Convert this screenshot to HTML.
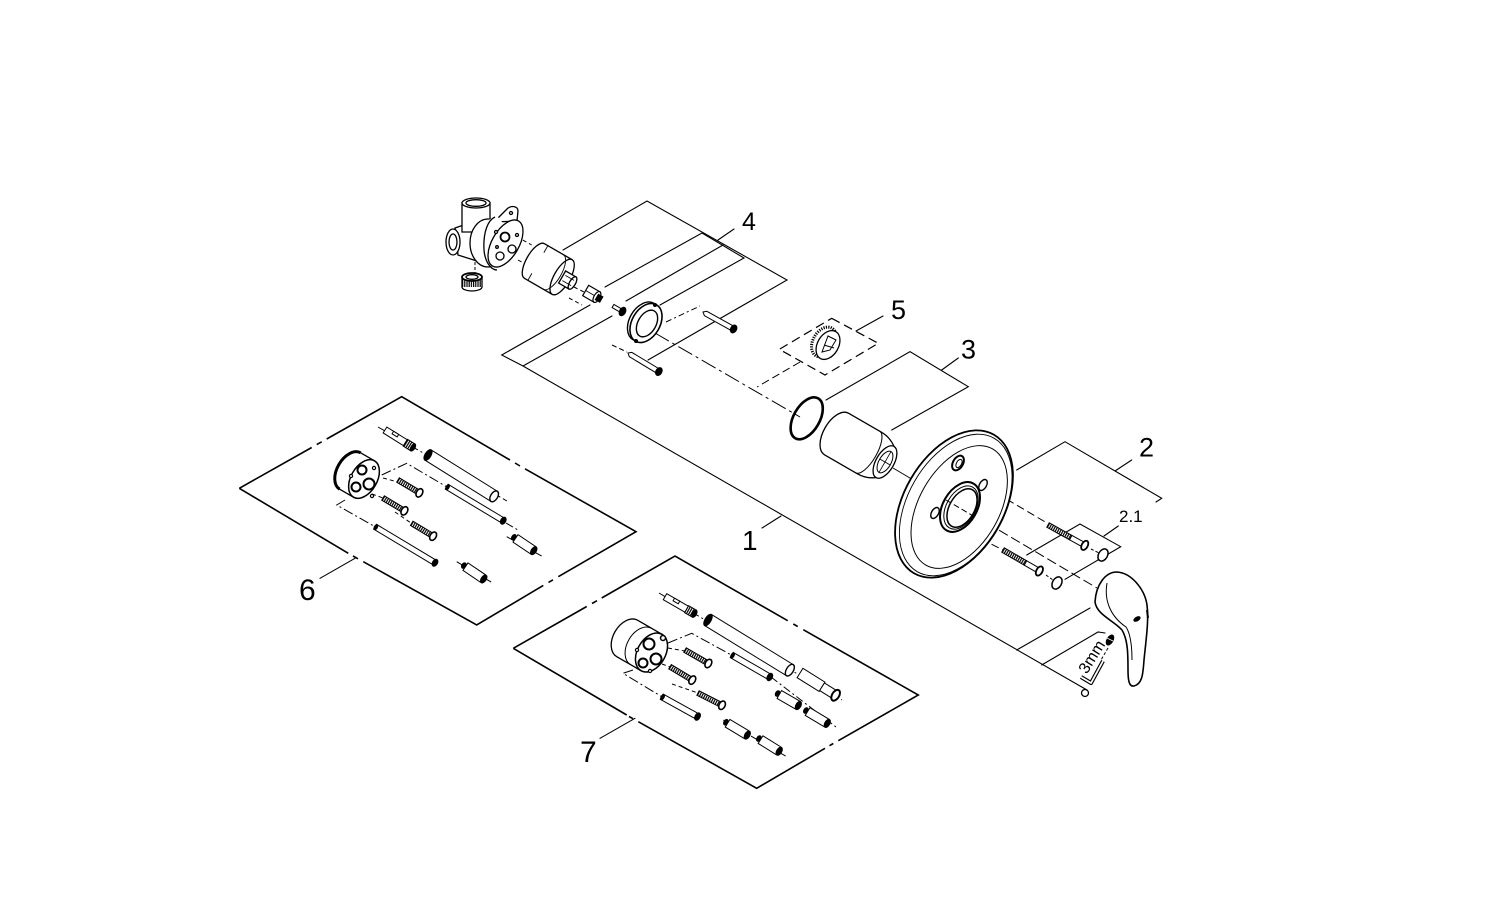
<!DOCTYPE html>
<html><head><meta charset="utf-8">
<style>
html,body{margin:0;padding:0;background:#fff;}
svg{display:block}
text{font-family:"Liberation Sans",Arial,sans-serif;fill:#000}
</style></head><body>
<svg width="1500" height="899" viewBox="0 0 1500 899" xmlns="http://www.w3.org/2000/svg">
<defs>
<pattern id="thr" width="2.2" height="10" patternUnits="userSpaceOnUse"><rect width="2.2" height="10" fill="#fff"/><rect width="1.2" height="10" fill="#000"/></pattern>
</defs>
<rect width="1500" height="899" fill="#fff"/>

<!-- ===== leader lines ===== -->
<g stroke="#000" stroke-width="1.1" fill="none" stroke-linecap="round">
  <path d="M563,250 L647,201 L787,280 L648,360"/>
  <path d="M605,287 L702,233 L744,258 L660,305"/>
  <path d="M723,245 L626,301"/>
  <path d="M734,229 L718,240"/>
  <path d="M590,305 L501.7,355 L523,366 L1087,690"/>
  <path d="M523,366 L612,316"/>
  <path d="M1016.7,650 L1090,608"/>
  <path d="M1041.7,665 L1098,632 L1105,633"/>
  <path d="M762,528 L781,516"/>
  <path d="M883,316 L856,331"/>
  <path d="M826,400 L910,351.7 L968.3,386.7 L891.7,430"/>
  <path d="M958.3,358 L941.7,370"/>
  <path d="M1016.7,470 L1065,441.7 L1161.7,498.3 L1156,502"/>
  <path d="M1131.7,460 L1115,471"/>
  <path d="M1026.7,555 L1080,524 L1120.7,546.7 L1065,579.3"/>
  <path d="M1118.3,526 L1104,536"/>
  <path d="M320,578.3 L355,558.3"/>
  <path d="M600,738.3 L635,718.3"/>
</g>

<!-- dashed / dash-dot axes -->
<g stroke="#000" stroke-width="1" fill="none">
  <path d="M831.7,318.3 L878.3,343.3 L825,375 L779.3,349.3 Z" stroke-dasharray="9,5" stroke-width="1.2"/>
  <path d="M800,362 L757,387" stroke-dasharray="8,4"/>
  <path d="M655,333 L800,417" stroke-dasharray="16,4,3,4"/>
  <path d="M666,322 L700,306" stroke-dasharray="6,3,2,3"/>
  <path d="M612,345 L627,352" stroke-dasharray="5,3"/>
  <path d="M516.7,236.7 L531.7,245 M518,260 L530,266.7" stroke-dasharray="4,3"/>
  <path d="M475,262 L475,274" stroke-dasharray="3,2"/>
  <path d="M574,287 L588,294 M569,298 L582,305" stroke-dasharray="4,3"/>
  <path d="M893,468 L915,481"/>
  <path d="M986,487 L1047,523" stroke-dasharray="8,4"/>
  <path d="M938,517 L1003,550" stroke-dasharray="8,4"/>
  <path d="M975,516 L1097,588" stroke-dasharray="10,4"/>
  <path d="M1091,549 L1099,553 M1046,575 L1053,580" stroke-dasharray="3,2"/>
  <path d="M1108,648 L1101,660" stroke-dasharray="3,2"/>
  <path d="M378,427 L507,501" stroke-dasharray="10,3,2,3"/>
  <path d="M381.7,475 L406.7,463.3 L447,487" stroke-dasharray="10,3,2,3"/>
  <path d="M506,523 L518,530 M506.7,536.7 L543.3,557" stroke-dasharray="8,3,2,3"/>
  <path d="M345,500 L336.7,505 L375,526.7" stroke-dasharray="10,3,2,3"/>
  <path d="M456.7,561.7 L493.3,583.3" stroke-dasharray="8,3,2,3"/>
  <path d="M383,478 L398,482 M372,494 L383,498 M395,512 L411,523" stroke-dasharray="4,3"/>
  <path d="M659,593 L842,700" stroke-dasharray="10,3,2,3"/>
  <path d="M668,643 L691.7,633.3 L735,657" stroke-dasharray="10,3,2,3"/>
  <path d="M771,677 L836,727" stroke-dasharray="8,3,2,3"/>
  <path d="M633,670 L623,673.3 L661.7,696.7" stroke-dasharray="10,3,2,3"/>
  <path d="M723.3,720 L786.7,756.7" stroke-dasharray="8,3,2,3"/>
  <path d="M668,648 L685,651 M662,664 L670,667 M672,684 L698,693" stroke-dasharray="4,3"/>
</g>

<!-- box outlines -->
<g stroke="#000" stroke-width="1.6" fill="none">
  <path d="M239.3,488.3 L311.7,447.5 M316.7,444.6 L321.7,441.8 M326.7,439 L401.7,396.7 L510,460 M515,463 L520,466 M525,468.8 L636,531.7 L558.3,576.7 M553,579.8 L548.5,582.4 M543.3,585.4 L476.7,625 L363.3,561.7 M358,558.8 L353,556 M348.3,553.3 L239.3,488.3"/>
  <path d="M513.3,648.3 L586.7,606.5 M592,603.5 L597,600.7 M601.7,598 L675,556 L787.7,620.7 M793.3,624 L797.7,626.5 M803.3,629.7 L918.3,695 L838.3,740.7 M833.3,743.5 L829.5,745.7 M825,748.3 L756.7,788.3 L638.3,721.7 M633,718.7 L629,716.5 M626.7,715 L513.3,648.3"/>
</g>

<!-- ===== valve body ===== -->
<g stroke="#000" stroke-width="1.3" fill="#fff">
  <path d="M455,228 L478,220 L480,262 L458,255 Z"/>
  <ellipse cx="453" cy="242" rx="7" ry="13"/>
  <ellipse cx="453" cy="242" rx="4" ry="8"/>
  <path d="M462,203 L462,232 L490,232 L490,203 Z"/>
  <ellipse cx="476" cy="203" rx="14" ry="5"/>
  <ellipse cx="476" cy="203" rx="10" ry="3.3"/>
  <ellipse cx="488" cy="243" rx="18" ry="24"/>
  <path d="M494,222 L507,209 C511,205 518,206 518,211 L517,221 Z"/>
  <circle cx="511" cy="213" r="1.5"/>
  <path d="M484,222 L497,216 L509,230 L506,266 L492,270 Z" stroke="none"/>
  <path d="M495,217 C488,220 483,232 484,250 C485,262 491,270 497,270" fill="none"/>
  <ellipse cx="505.5" cy="243.5" rx="13.5" ry="26" transform="rotate(30 505.5 243.5)"/>
  <circle cx="505" cy="237" r="4.5" stroke-width="1.8"/>
  <circle cx="512" cy="249" r="4"/>
  <circle cx="500" cy="256" r="4"/>
  <circle cx="496" cy="232" r="1.5"/>
  <circle cx="517" cy="235" r="1.5"/>
  <circle cx="497" cy="247" r="1.3"/>
  <ellipse cx="472" cy="287" rx="10" ry="4"/>
  <rect x="462" y="277" width="20" height="10" fill="url(#thr)" stroke="none"/>
  <path d="M462,277 L462,287 M482,277 L482,287" fill="none"/>
  <ellipse cx="472" cy="277" rx="10" ry="4" stroke-width="1.8"/>
  <ellipse cx="472" cy="277" rx="6" ry="2.3"/>
</g>

<!-- cartridge -->
<g transform="translate(550,270) rotate(30)" stroke="#000" stroke-width="1.3" fill="#fff">
  <path d="M14,-20 L-18,-20 A8,20 0 0 0 -18,20 L14,20 Z"/>
  <ellipse cx="14" cy="0" rx="8" ry="20"/>
  <path d="M4,-20 A8,20 0 0 1 4,20" fill="none" stroke-width="0.9"/>
  <path d="M-14,-20 L-14,-12 M-14,12 L-14,20" stroke-width="0.9"/>
  <rect x="14" y="-7" width="12" height="14"/>
  <ellipse cx="26" cy="0" rx="3" ry="7"/>
  <path d="M16,-3 L26,-3 M16,3 L26,3" stroke-width="0.8"/>
</g>
<g transform="translate(590,293) rotate(30)" stroke="#000" stroke-width="1.2" fill="#fff">
  <rect x="-5" y="-6" width="13" height="12"/>
  <path d="M-5,0 L8,0" stroke-width="0.8"/>
  <ellipse cx="8" cy="0" rx="3" ry="6"/>
  <rect x="8" y="-3" width="5" height="6" fill="#000"/>
</g>
<g transform="translate(613,306) rotate(30)" stroke="#000" stroke-width="1" fill="#fff">
  <rect x="0" y="-1.8" width="9" height="3.6"/>
  <ellipse cx="11" cy="0" rx="3" ry="4.5" fill="#000"/>
</g>
<g stroke="#000" fill="#fff">
  <ellipse cx="643.5" cy="321.5" rx="14" ry="21" transform="rotate(30 643.5 321.5)" stroke-width="1.4"/>
  <ellipse cx="646" cy="323" rx="14" ry="21" transform="rotate(30 646 323)" stroke-width="1.6"/>
  <ellipse cx="647" cy="323.5" rx="9" ry="14.5" transform="rotate(30 647 323.5)" stroke-width="1.4"/>
  <circle cx="655" cy="305" r="1.5" fill="#000"/>
  <circle cx="636" cy="341" r="1.5" fill="#000"/>
</g>
<g transform="translate(703,312) rotate(29)" stroke="#000" stroke-width="1" fill="#fff">
  <path d="M0,0 L3,-2.5 L33,-2.5 L33,2.5 L3,2.5 Z"/>
  <ellipse cx="35" cy="0" rx="3" ry="4.2" fill="#000"/>
</g>
<g transform="translate(628,353) rotate(31)" stroke="#000" stroke-width="1" fill="#fff">
  <path d="M0,0 L3,-2.5 L34,-2.5 L34,2.5 L3,2.5 Z"/>
  <ellipse cx="36" cy="0" rx="3" ry="4.2" fill="#000"/>
</g>

<!-- cap item 5 -->
<g stroke="#000" fill="#fff">
  <ellipse cx="824" cy="342" rx="11" ry="16" transform="rotate(30 824 342)" stroke-width="3" stroke-dasharray="1.2,1.2"/>
  <ellipse cx="828" cy="345" rx="10.5" ry="15.5" transform="rotate(30 828 345)" stroke-width="1.3"/>
  <path d="M822,352 L828,336 L836,340 L830,350 Z" fill="none" stroke-width="1"/>
  <path d="M824,345 L834,348" fill="none" stroke-width="1"/>
</g>

<ellipse cx="806.7" cy="418.3" rx="13" ry="23" transform="rotate(30 806.7 418.3)" fill="none" stroke="#000" stroke-width="2.6"/>

<g transform="translate(859,447) rotate(30)" stroke="#000" stroke-width="1.3" fill="#fff">
  <path d="M-26,-24 L12,-24 C20,-24 26,-21 30,-18 L30,18 C26,21 20,24 12,24 L-26,24 A13,24 0 0 1 -26,-24 Z"/>
  <path d="M10,-24 A9,24 0 0 1 10,24" fill="none" stroke-width="1"/>
  <ellipse cx="30" cy="0" rx="9" ry="18"/>
  <ellipse cx="30" cy="0" rx="6" ry="12" stroke-width="1"/>
  <path d="M30,-12 L30,12 M24,0 L36,0" stroke-width="0.8" fill="none"/>
</g>

<g transform="translate(954,504) rotate(30)" stroke="#000" fill="#fff">
  <ellipse cx="0" cy="0" rx="50" ry="80" stroke-width="1.8"/>
  <ellipse cx="2" cy="0" rx="47.5" ry="77" stroke-width="0.9" fill="none"/>
  <ellipse cx="6" cy="0" rx="40" ry="67" stroke-width="1" fill="none"/>
</g>
<g stroke="#000" fill="#fff">
  <ellipse cx="960" cy="507" rx="17" ry="27" transform="rotate(30 960 507)" stroke-width="2"/>
  <ellipse cx="961" cy="507.5" rx="14.5" ry="23.5" transform="rotate(30 961 507.5)" stroke-width="1"/>
  <ellipse cx="962" cy="508" rx="12.5" ry="21" transform="rotate(30 962 508)" stroke-width="1.5"/>
  <ellipse cx="935" cy="513" rx="3.5" ry="6" transform="rotate(30 935 513)" stroke-width="1.4"/>
  <ellipse cx="983" cy="485" rx="3.5" ry="6" transform="rotate(30 983 485)" stroke-width="1.4"/>
  <ellipse cx="958" cy="463" rx="5" ry="8" transform="rotate(30 958 463)" stroke-width="2"/>
  <ellipse cx="959" cy="463.5" rx="2.5" ry="4.5" transform="rotate(30 959 463.5)" stroke-width="1"/>
  <path d="M946,500 L975,517" fill="none" stroke-width="1" stroke-dasharray="6,3"/>
</g>

<g transform="translate(1048,525) rotate(29)" stroke="#000" stroke-width="1" fill="#fff">
  <rect x="0" y="-2.5" width="26" height="5" fill="url(#thr)"/>
  <rect x="26" y="-2.5" width="14" height="5"/>
  <ellipse cx="42" cy="0" rx="3" ry="5" stroke-width="1.8"/>
</g>
<g transform="translate(1003,550) rotate(30)" stroke="#000" stroke-width="1" fill="#fff">
  <rect x="0" y="-2.5" width="26" height="5" fill="url(#thr)"/>
  <rect x="26" y="-2.5" width="14" height="5"/>
  <ellipse cx="42" cy="0" rx="3" ry="5" stroke-width="1.8"/>
</g>
<ellipse cx="1103" cy="555" rx="4.5" ry="6.5" transform="rotate(30 1103 555)" fill="#fff" stroke="#000" stroke-width="1.5"/>
<ellipse cx="1057" cy="583" rx="4.5" ry="6.5" transform="rotate(30 1057 583)" fill="#fff" stroke="#000" stroke-width="1.5"/>

<path d="M1095,602 C1096,585 1105,572 1117,572 C1132,573 1145,590 1147,605 C1149,620 1146,640 1144,660 C1143,675 1142,684 1134,686 C1129,687 1128,680 1128,670 C1128,655 1128,640 1122,630 C1113,620 1097,615 1095,602 Z" fill="#fff" stroke="#000" stroke-width="1.6"/>
<path d="M1107,583 C1104,600 1110,616 1126,627 C1130,633 1132,645 1132,660" fill="none" stroke="#000" stroke-width="1"/>
<ellipse cx="1137" cy="619" rx="4" ry="2.3" transform="rotate(-30 1137 619)" fill="#000"/>
<path d="M1147,610 L1148,618" stroke="#000" stroke-width="2"/>
<ellipse cx="1110" cy="640" rx="3.5" ry="6" transform="rotate(30 1110 640)" fill="#000"/>
<path d="M1107,638 L1113,641" stroke="#fff" stroke-width="0.8"/>
<path d="M1103,661 L1091,683 L1081,677" fill="none" stroke="#000" stroke-width="4" stroke-linejoin="round"/>
<path d="M1103,661 L1091,683 L1081,677" fill="none" stroke="#fff" stroke-width="1.8" stroke-linejoin="round"/>
<circle cx="1085" cy="693" r="3.5" fill="#fff" stroke="#000" stroke-width="1.3"/>
<text transform="translate(1092,657) rotate(-58)" text-anchor="middle" y="5" font-size="16">3mm</text>

<!-- ===== box 6 contents ===== -->
<g transform="translate(364,479) rotate(30)" stroke="#000" fill="#fff">
  <path d="M0,-21 L-16,-21 A13,21 0 0 0 -16,21 L0,21 Z" stroke-width="1.3"/>
  <path d="M-16,-21 A13,21 0 0 0 -16,21" fill="none" stroke-width="3"/>
  <ellipse cx="0" cy="0" rx="13" ry="21" stroke-width="1.5"/>
</g>
<g stroke="#000" fill="#fff">
  <circle cx="362" cy="470" r="4.5" stroke-width="2"/>
  <circle cx="369" cy="484" r="5.5" stroke-width="2"/>
  <circle cx="356" cy="487" r="4.5" stroke-width="2"/>
  <circle cx="374" cy="468" r="1.6" stroke-width="1.2"/>
  <circle cx="351" cy="476" r="1.6" stroke-width="1.2"/>
  <circle cx="372" cy="496" r="1.6" stroke-width="1.2"/>
</g>
<g stroke="#000" stroke-width="1" fill="#fff">
  <g transform="translate(385,430) rotate(32)">
    <rect x="0" y="-3.5" width="24" height="7"/>
    <rect x="8" y="-3.5" width="6" height="3" fill="#fff"/>
    <rect x="24" y="-4" width="9" height="8" fill="url(#thr)"/>
    <ellipse cx="33" cy="0" rx="2" ry="4" fill="#000"/>
  </g>
  <g transform="translate(428,455) rotate(32)">
    <rect x="0" y="-6" width="78" height="12"/>
    <ellipse cx="0" cy="0" rx="3" ry="6" fill="#000"/>
    <ellipse cx="78" cy="0" rx="3.5" ry="6" stroke-width="1.4"/>
  </g>
  <g transform="translate(446.7,486.7) rotate(31)">
    <rect x="0" y="-2.8" width="64" height="5.6"/>
    <ellipse cx="1" cy="0" rx="1.5" ry="2.8" fill="#000"/>
    <ellipse cx="66" cy="0" rx="2.5" ry="3.8" fill="#000"/>
  </g>
  <g transform="translate(398,480) rotate(31)"><rect x="0" y="-2.5" width="22" height="5" fill="url(#thr)"/><ellipse cx="25" cy="0" rx="3" ry="4.5" stroke-width="1.6"/></g>
  <g transform="translate(383,498) rotate(31)"><rect x="0" y="-2.5" width="22" height="5" fill="url(#thr)"/><ellipse cx="25" cy="0" rx="3" ry="4.5" stroke-width="1.6"/></g>
  <g transform="translate(411.7,523.3) rotate(31)"><rect x="0" y="-2.5" width="22" height="5" fill="url(#thr)"/><ellipse cx="25" cy="0" rx="3" ry="4.5" stroke-width="1.6"/></g>
  <g transform="translate(375,526.7) rotate(31)">
    <rect x="0" y="-2.8" width="68" height="5.6"/>
    <ellipse cx="1" cy="0" rx="1.5" ry="2.8" fill="#000"/>
    <ellipse cx="70" cy="0" rx="2.5" ry="3.8" fill="#000"/>
  </g>
  <g transform="translate(513,536.7) rotate(34)"><ellipse cx="1" cy="0" rx="2" ry="3" fill="#000"/><rect x="3" y="-4.5" width="21" height="9"/><ellipse cx="25" cy="0" rx="2.5" ry="4.5" fill="#000"/></g>
  <g transform="translate(463,565) rotate(34)"><ellipse cx="1" cy="0" rx="2" ry="3" fill="#000"/><rect x="3" y="-4.5" width="21" height="9"/><ellipse cx="25" cy="0" rx="2.5" ry="4.5" fill="#000"/></g>
</g>

<!-- ===== box 7 contents ===== -->
<g transform="translate(651.5,652.5) rotate(30)" stroke="#000" fill="#fff">
  <path d="M0,-21 L-28,-21 A14,21 0 0 0 -28,21 L0,21 Z" stroke-width="1.3"/>
  <path d="M-12,-21 A14,21 0 0 0 -12,21" fill="none" stroke-width="1"/>
  <ellipse cx="0" cy="0" rx="14" ry="21" stroke-width="1.5"/>
</g>
<g stroke="#000" fill="#fff">
  <circle cx="649" cy="644" r="5.5" stroke-width="2"/>
  <circle cx="656" cy="659" r="5.5" stroke-width="2"/>
  <circle cx="643" cy="663" r="4.5" stroke-width="2"/>
  <circle cx="663" cy="638" r="2.5" stroke-width="1.5"/>
  <circle cx="637" cy="650" r="1.6" stroke-width="1.2"/>
  <circle cx="650" cy="671" r="1.6" stroke-width="1.2"/>
</g>
<g stroke="#000" stroke-width="1" fill="#fff">
  <g transform="translate(665,596.7) rotate(30)">
    <rect x="0" y="-3.5" width="25" height="7"/>
    <rect x="9" y="-3.5" width="6" height="3"/>
    <rect x="25" y="-4" width="9" height="8" fill="url(#thr)"/>
    <ellipse cx="34" cy="0" rx="2" ry="4" fill="#000"/>
  </g>
  <g transform="translate(708,620) rotate(31.5)">
    <rect x="0" y="-6.5" width="96" height="13"/>
    <ellipse cx="0" cy="0" rx="3" ry="6.5" fill="#000"/>
    <ellipse cx="96" cy="0" rx="3.5" ry="6.5" stroke-width="1.4"/>
  </g>
  <g transform="translate(731.7,655) rotate(30)">
    <rect x="0" y="-3" width="42" height="6"/>
    <ellipse cx="1" cy="0" rx="1.5" ry="3" fill="#000"/>
    <ellipse cx="44" cy="0" rx="2.5" ry="4" fill="#000"/>
  </g>
  <g transform="translate(800,673) rotate(32)">
    <rect x="0" y="-5.5" width="26" height="11"/>
    <rect x="26" y="-4.5" width="16" height="9"/>
    <ellipse cx="42" cy="0" rx="3.5" ry="6" stroke-width="2"/>
  </g>
  <g transform="translate(685,650) rotate(30)"><rect x="0" y="-2.5" width="24" height="5" fill="url(#thr)"/><ellipse cx="27" cy="0" rx="3" ry="4.5" stroke-width="1.6"/></g>
  <g transform="translate(670,666.7) rotate(31)"><rect x="0" y="-2.5" width="23" height="5" fill="url(#thr)"/><ellipse cx="26" cy="0" rx="3" ry="4.5" stroke-width="1.6"/></g>
  <g transform="translate(698,693) rotate(27)"><rect x="0" y="-2.5" width="24" height="5" fill="url(#thr)"/><ellipse cx="27" cy="0" rx="3" ry="4.5" stroke-width="1.6"/></g>
  <g transform="translate(661.7,696.7) rotate(29)">
    <rect x="0" y="-3" width="39" height="6"/>
    <ellipse cx="1" cy="0" rx="1.5" ry="3" fill="#000"/>
    <ellipse cx="41" cy="0" rx="2.5" ry="4" fill="#000"/>
  </g>
  <g transform="translate(776.7,693) rotate(30)"><ellipse cx="1" cy="0" rx="2" ry="3" fill="#000"/><rect x="3" y="-4.5" width="21" height="9"/><ellipse cx="25" cy="0" rx="2.5" ry="4.5" fill="#000"/></g>
  <g transform="translate(805,710) rotate(31)"><ellipse cx="1" cy="0" rx="2" ry="3" fill="#000"/><rect x="3" y="-4.5" width="22" height="9"/><ellipse cx="26" cy="0" rx="2.5" ry="4.5" fill="#000"/></g>
  <g transform="translate(725,721.7) rotate(31)"><ellipse cx="1" cy="0" rx="2" ry="3" fill="#000"/><rect x="3" y="-4.5" width="22" height="9"/><ellipse cx="26" cy="0" rx="2.5" ry="4.5" fill="#000"/></g>
  <g transform="translate(758,738) rotate(32)"><ellipse cx="1" cy="0" rx="2" ry="3" fill="#000"/><rect x="3" y="-4.5" width="21" height="9"/><ellipse cx="25" cy="0" rx="2.5" ry="4.5" fill="#000"/></g>
</g>

<!-- labels -->
<text x="742" y="230" font-size="25">4</text>
<text x="891" y="319" font-size="27">5</text>
<text x="961" y="358.5" font-size="27">3</text>
<text x="1139" y="456.5" font-size="27">2</text>
<text x="1119" y="522" font-size="17">2.1</text>
<text x="742" y="550" font-size="28">1</text>
<text x="299" y="600" font-size="30">6</text>
<text x="580" y="762" font-size="30">7</text>
</svg>
</body></html>
